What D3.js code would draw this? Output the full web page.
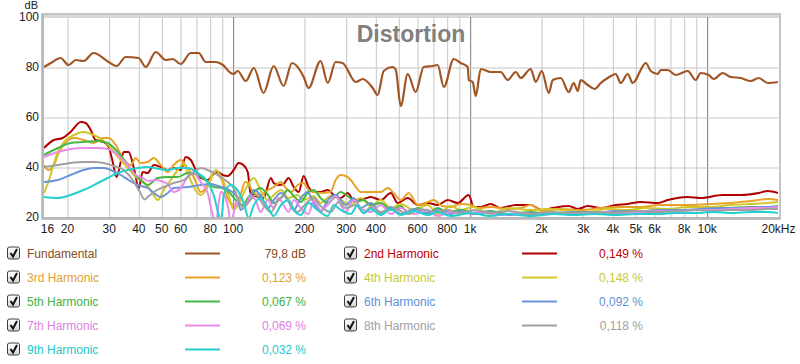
<!DOCTYPE html>
<html><head><meta charset="utf-8">
<script src="https://cdn.jsdelivr.net/npm/d3@7"></script>
<style>
body{margin:0;background:#fff;}
svg{display:block;font-family:"Liberation Sans",Arial,sans-serif;}
</style></head><body>
<svg id="c" width="800" height="364"></svg>
<script>
// ---------- DATA ----------
const freqTicks = [16,20,30,40,50,60,80,100,200,300,400,600,800,1000,2000,3000,4000,5000,6000,8000,10000,20000];
const freqTickLabels = ["16","20","30","40","50","60","80","100","200","300","400","600","800","1k","2k","3k","4k","5k","6k","8k","10k","20kHz"];
const gridFreqs = [20,30,40,50,60,70,80,90,100,200,300,400,500,600,700,800,900,1000,2000,3000,4000,5000,6000,7000,8000,9000,10000];
const decadeFreqs = [100,1000,10000];
const dbTicks = [20,40,60,80,100];
const dbGrid = [40,60,80];

const seriesNames = ["Fundamental","2nd Harmonic","3rd Harmonic","4th Harmonic","5th Harmonic","6th Harmonic","7th Harmonic","8th Harmonic","9th Harmonic"];
const seriesValues = ["79,8 dB","0,149 %","0,123 %","0,148 %","0,067 %","0,092 %","0,069 %","0,118 %","0,032 %"];
const lineColors = ["#a05624","#b00000","#e8a228","#d0c828","#44b844","#6a94d8","#ec8aec","#a0a0a0","#22d0d0"];
const textColors = ["#8a4a1c","#c00000","#e0a030","#c8c830","#40b040","#6090d8","#e080e0","#a0a0a0","#20c8c8"];

const fundamental = [[16,80],[17.1,81.6],[18.8,83.6],[20.3,80.8],[21.8,82.8],[23.5,82.4],[25.9,85.6],[30,82],[32.4,80.4],[35.4,84],[40.1,83.6],[43,80],[47.4,86],[52.2,82.8],[55.8,83.2],[60.4,81.2],[66.5,85.6],[71.9,85.6],[77,82],[84.9,82],[91,80.8],[98.2,77.6],[101,77.2],[105,78.4],[113.6,74.4],[123,79.6],[135,69.6],[149,80.4],[164,72.4],[178,81.6],[199.5,76],[209,71.6],[235,82.4],[252,73.6],[272,82],[291,81.6],[331,74],[354,75.2],[390,71.6],[409,68.8],[434,78.4],[474,80],[488,78.8],[512,64.4],[548,77.2],[592,70],[640,80],[699,80.4],[733,80.8],[778,72],[857,83.2],[917,81.6],[982,80],[991,74.8],[1030,74],[1061,68.4],[1114,79.2],[1227,78],[1352,78],[1448,74.8],[1565,78],[1643,75.6],[1810,79.2],[1901,74],[2014,78.4],[2157,69.6],[2242,74.8],[2423,75.6],[2619,70],[2749,73.6],[2858,70.4],[2942,74.8],[3149,72.8],[3371,71.2],[3574,73.6],[3825,75.6],[4134,77.2],[4341,73.6],[4645,77.2],[4877,73.6],[5021,74.8],[5271,78.8],[5534,81.6],[5809,78.4],[6218,77.2],[6400,78.8],[6851,78.8],[7407,76.8],[8320,78.4],[8993,74.8],[9440,77.6],[10202,76.8],[10711,75.2],[11690,77.6],[12637,76],[13929,75.6],[15348,74.4],[16585,75.6],[18101,73.6],[20000,74]];

const harmonic2 = [[16,47.6],[17.6,50.8],[19.2,51.6],[20.7,54],[22.9,58],[24,57.6],[25.2,54.8],[26.4,50.8],[28.6,50],[30,48],[31.2,42],[32.4,36],[33.7,42],[34.7,46],[36.4,46],[38.3,39.6],[40.2,31.6],[41.7,38],[43.8,37.6],[46.5,40.8],[49.7,40],[53.2,38.8],[56.4,39.6],[60.4,38.8],[63.4,44],[66.6,42.8],[69.9,38.8],[73.3,35.6],[78.5,34.8],[82.4,36.8],[86.5,38],[90.8,36.8],[95.3,36.4],[101,38.8],[106,41.6],[111,40.8],[115.8,38],[119,29.6],[128,28],[135,27.6],[145,35.6],[149,33.6],[156,32.8],[164,33.2],[172,35.6],[181,32],[190,30],[199.5,36.4],[209,32],[220,30],[235,30],[252,30.8],[267,28.8],[286,27.6],[306,29.6],[324,26.8],[357,27.2],[383,28],[422,26.8],[465,29.6],[497,25.6],[548,27.6],[604,24.8],[666,25.6],[733,24.8],[808,26.8],[891,25.6],[991,28.8],[1041,24],[1114,24],[1227,25.2],[1352,23.6],[1565,24.8],[1810,24.8],[2014,22.8],[2242,23.6],[2619,24.4],[2858,23.2],[3149,24.4],[3574,23.6],[4134,24.8],[4645,25.2],[5271,26],[6218,25.6],[6851,26.8],[8320,28],[9440,27.6],[11690,28.8],[13929,28.8],[16585,29.6],[18101,30.4],[20000,29.6]];

const harmonic3 = [[16,40.8],[16.7,38.8],[17.6,40.8],[18.5,46],[19.8,50],[21.4,51.6],[23.5,50.8],[25.9,49.6],[28.3,51.6],[30,51.6],[32.1,48.8],[34.4,43.6],[37.2,40.8],[39,43.6],[40.9,41.6],[43.8,42],[46.5,43.6],[49.7,40.8],[53.2,38],[56.4,40.8],[60.4,42.8],[64.6,39.6],[68.5,36],[73.3,30],[78.5,32.8],[83.2,37.6],[89.1,35.6],[95.3,27.6],[101,24.8],[108,29],[113,34],[115.8,33.6],[123,29.6],[131,28.8],[141,30.8],[149,32],[160,34],[164,32.8],[176,30],[188,32.8],[199.5,33.6],[209,30.8],[220,30],[235,29.6],[259,30],[272,34.8],[286,36.8],[300,36.4],[315,34.8],[331,32],[347,30],[383,30],[422,30],[451,31.6],[478,29.6],[512,26.8],[553,29.6],[604,24.8],[666,26],[705,26.8],[766,24.4],[832,24],[917,25.2],[1011,24.8],[1082,23.6],[1227,24],[1448,23.2],[1643,23.6],[1810,24.8],[2014,22.4],[2423,23.2],[2942,22.8],[3574,23.6],[4341,24],[5271,24],[6400,24.8],[8320,24.8],[10202,25.2],[12637,25.6],[15348,26.4],[18101,27.2],[20000,26.8]];

const harmonic4 = [[16,29.6],[16.7,34],[17.4,39.6],[18.3,46],[19.4,50],[21.4,52.8],[23.5,54],[25.9,52.8],[28.3,50.8],[30.6,47.6],[33.1,43.6],[36.1,39.6],[39,36],[42.2,34],[45.1,30.8],[48.3,26.8],[51.2,30.8],[54.8,34.8],[58.7,38.8],[62.2,41.2],[64.6,37.6],[68.5,32],[73.3,28.8],[78.5,32],[84.9,38.8],[90.8,34.8],[96.3,28.4],[101,22.8],[108,26.8],[115.8,32.8],[123,35.6],[131,30.8],[141,26.8],[149,28.8],[160,30.8],[172,27.6],[188,28.8],[199.5,26.8],[220,28.4],[235,25.6],[259,28.4],[286,26.8],[315,24.8],[347,27.6],[383,24.4],[422,26.8],[465,23.6],[512,25.2],[581,22.8],[666,24.8],[733,21.2],[832,24.4],[917,22.8],[1041,24],[1227,21.2],[1448,23.6],[1810,22.8],[2157,23.2],[2619,22.4],[3149,22],[3825,23.2],[4645,22.8],[5534,23.6],[6851,23.2],[8320,24],[10202,24],[12637,24.8],[15348,25.2],[18101,25.6],[20000,26]];

const harmonic5 = [[16,44.8],[18.3,47.6],[20.7,49.6],[23.5,50],[27,50.4],[29.7,49.6],[32.7,46],[35.4,42],[38.3,37.6],[40.9,34.8],[43.8,32.8],[48.3,35.6],[53.2,36],[58.7,36],[64.6,37.6],[71.2,36.8],[78.5,34],[83.2,32],[90.8,31.6],[96.3,30],[105,26],[111,24.8],[115.8,27.6],[123,30],[131,31.6],[141,28.8],[149,25.6],[160,27.6],[171,30.8],[181,28.4],[194,26],[207,29.6],[220,30.8],[235,27.6],[252,25.6],[267,27.6],[286,30],[306,28.4],[331,26],[357,26.8],[383,24.8],[422,25.6],[465,22.8],[512,24.4],[553,21.2],[604,23.6],[666,21.2],[733,23.6],[808,22],[917,22.8],[1041,21.6],[1227,22.4],[1448,21.2],[1810,22],[2157,21.2],[2619,21.6],[3149,22],[3825,21.6],[4645,22.4],[5534,22],[6851,22.8],[8320,22.8],[10202,23.2],[12637,23.6],[15348,24],[18101,24],[20000,24.4]];

const harmonic6 = [[16,34],[18.3,34.8],[20.7,36.8],[23.5,38.8],[25.9,39.6],[28.6,39.6],[31.2,38.4],[33.7,36.8],[36.4,34.8],[39.8,32.8],[43.8,31.6],[46.5,29.6],[49.7,28],[53.2,29.6],[56.4,31.6],[64.6,32],[73.3,32.8],[80.8,33.2],[89.1,32],[98.2,30.4],[105,27.6],[108,22.8],[115.8,26],[123,30.8],[131,28.8],[141,23.6],[149,26.8],[160,29.6],[171,26.8],[181,22.8],[194,27.6],[207,30],[220,25.6],[235,22],[252,26.8],[272,28.8],[300,24.8],[324,27.6],[347,23.6],[383,25.6],[422,21.6],[465,24],[512,21.2],[581,23.2],[666,21.6],[733,22.8],[832,21.2],[917,22.4],[1041,21.2],[1227,22],[1448,20.8],[1810,21.6],[2242,21.2],[2749,22],[3371,21.6],[4134,22.4],[5021,22],[6218,22.8],[7407,22.8],[9440,23.2],[11690,23.6],[13929,23.6],[16585,24],[20000,24]];

const harmonic7 = [[16,44],[18.3,46],[20.7,47.2],[23.5,47.6],[27,47.6],[29.7,47.2],[32.7,44.8],[36.1,40.8],[39,36.8],[41.7,35.6],[44.3,34.4],[47.4,34.8],[51.2,34],[53.2,33.2],[56.4,30],[60.4,31.6],[64.6,36],[68.5,37.6],[73.3,34],[78.5,29.6],[82.4,20.8],[84.9,18],[89.1,30],[95.3,24.8],[98.2,18],[103,24.8],[108,27.6],[113.6,24.8],[119,28.4],[125,26.8],[131,22],[141,26.8],[149,23.6],[156,27.6],[164,24.8],[172,22],[181,26.8],[194,23.6],[209,21.2],[220,26.8],[235,22.8],[252,24.8],[272,28.4],[286,24.8],[300,22],[324,26.8],[347,23.6],[383,22],[422,24.8],[465,21.2],[512,23.6],[581,21.2],[666,22.8],[733,20.4],[832,22],[917,21.2],[1114,22],[1352,20.8],[1643,21.6],[2014,20.8],[2423,21.6],[2942,21.2],[3574,22],[4341,21.6],[5271,22],[6400,22.4],[7407,22],[8993,22.8],[10711,22.8],[12637,23.2],[15348,23.6],[18101,23.6],[20000,24]];

const harmonic8 = [[16,40],[18.3,40.8],[20.7,41.6],[23.5,42],[25.9,42],[28.6,41.6],[31.5,40.4],[34.7,38.8],[37.9,34.8],[40.2,30.8],[42.6,27],[44.3,28.4],[46.5,30],[51.2,32],[56.4,33.6],[62.2,34.8],[68.5,38],[73.3,39.6],[78.5,38.8],[86.5,36.8],[95.3,34],[101,31.6],[105,27.6],[111,23.6],[117,26],[125,28.8],[135,24.8],[145,22],[156,26.8],[164,28.4],[176,24.8],[188,22],[199.5,24.4],[220,27.6],[235,24.4],[259,22],[280,26],[300,23.6],[331,24.8],[357,21.6],[383,24],[422,22],[478,23.6],[548,21.2],[622,23.2],[705,22],[808,22.8],[917,21.6],[1041,22.8],[1227,21.6],[1448,22.4],[1810,21.2],[2242,22],[2749,21.6],[3371,22],[4134,21.6],[5021,22.4],[6218,22],[7407,22.4],[8993,22.8],[10711,22.4],[12637,22.8],[15348,22.8],[18101,23.2],[20000,23.2]];

const harmonic9 = [[16,28],[18.3,27.6],[20.7,28.8],[23.5,30.8],[27,33.6],[29.7,35.6],[32.7,37.6],[36.1,38.8],[39.8,39.6],[43.8,40],[46.5,39.6],[53.2,38.8],[58.7,39.6],[64.6,39.6],[71.2,37.6],[78.5,34],[83.2,28.8],[87.4,20.8],[89.5,18],[91.7,28.8],[98.2,32.8],[103,31.6],[111,26],[117,19.6],[123,24.8],[131,27.6],[141,23.6],[149,20.4],[160,24.8],[172,26.8],[181,22.8],[194,20.8],[209,25.6],[228,22.8],[252,20.4],[267,24.8],[286,22.8],[315,21.2],[337,24.8],[357,21.6],[383,23.2],[422,20.8],[465,23.2],[512,20.8],[581,22.4],[666,20.8],[733,22],[832,20.4],[1011,21.6],[1227,20.4],[1448,21.2],[1810,20.4],[2242,21.2],[2749,20.8],[3371,21.2],[4134,20.8],[5021,21.2],[6218,21.2],[7407,21.6],[8993,21.6],[10711,22],[12637,21.6],[15348,22],[18101,22],[20000,21.6]];

const allSeries = [fundamental,harmonic2,harmonic3,harmonic4,harmonic5,harmonic6,harmonic7,harmonic8,harmonic9];

// ---------- CHART ----------
const svg = d3.select("#c");
const L = 44, R = 778, T = 17, B = 217;
const x = d3.scaleLog().domain([16,20000]).range([L,R]);
const y = d3.scaleLinear().domain([20,100]).range([B,T]);

const defs = svg.append("defs");
defs.append("clipPath").attr("id","plotclip").append("rect")
  .attr("x",L).attr("y",T).attr("width",R-L).attr("height",B-T);
const grad = defs.append("linearGradient").attr("id","cbgrad").attr("x1",0).attr("y1",0).attr("x2",0).attr("y2",1);
grad.append("stop").attr("offset","0%").attr("stop-color","#ffffff");
grad.append("stop").attr("offset","100%").attr("stop-color","#d4d4d4");

// frame with soft shadow
svg.append("rect").attr("x",L-1).attr("y",T-1).attr("width",R-L+4).attr("height",B-T+4)
  .attr("fill","#e6e6e6");
svg.append("rect").attr("x",L-2).attr("y",T-3).attr("width",R-L+4).attr("height",B-T+5)
  .attr("fill","#fff").attr("stroke","#c4c4c4").attr("stroke-width",2);
svg.append("rect").attr("x",L-1).attr("y",T-2).attr("width",R-L+2).attr("height",3).attr("fill","#d8d8d8");

// vertical grid
const gx = svg.append("g").attr("transform",`translate(0,${B})`)
  .call(d3.axisBottom(x).tickValues(gridFreqs).tickSize(-(B-T)).tickFormat(""));
gx.select(".domain").remove();
gx.selectAll("line").attr("stroke", d => decadeFreqs.includes(d) ? "#7c7c7c" : "#c6c6c6").attr("stroke-width",1)
  .attr("transform","translate(0.5,0)");

// horizontal grid
const gy = svg.append("g").attr("transform",`translate(${L},0)`)
  .call(d3.axisLeft(y).tickValues(dbGrid).tickSize(-(R-L)).tickFormat(""));
gy.select(".domain").remove();
gy.selectAll("line").attr("stroke","#c6c6c6").attr("transform","translate(0,0.5)");

// axis edges
svg.append("line").attr("x1",L-1).attr("x2",L-1).attr("y1",T-2).attr("y2",B+2).attr("stroke","#b8b8b8").attr("stroke-width",2);
svg.append("line").attr("x1",L-2).attr("x2",R+2).attr("y1",B+1).attr("y2",B+1).attr("stroke","#b8b8b8").attr("stroke-width",2);

// x labels
const ax = svg.append("g").attr("transform",`translate(0,${B})`)
  .call(d3.axisBottom(x).tickValues(freqTicks).tickSize(0).tickPadding(7)
    .tickFormat((d,i) => freqTickLabels[i]));
ax.select(".domain").remove();
ax.selectAll("text").attr("font-size",12).attr("fill","#1a1a1a")
  .attr("font-family","'Liberation Sans',Arial,sans-serif")
  .attr("dx",(d,i)=> i===0 ? 3 : 0);

// y labels
const ay = svg.append("g").attr("transform",`translate(${L},0)`)
  .call(d3.axisLeft(y).tickValues(dbTicks).tickSize(0).tickPadding(5));
ay.select(".domain").remove();
ay.selectAll("text").attr("font-size",12).attr("fill","#1a1a1a")
  .attr("font-family","'Liberation Sans',Arial,sans-serif");

svg.append("text").attr("x",38).attr("y",9).attr("text-anchor","end")
  .attr("font-size",11).attr("fill","#1a1a1a").text("dB");

// title
svg.append("text").attr("x",411).attr("y",42).attr("text-anchor","middle")
  .attr("font-size",23).attr("font-weight","bold").attr("fill","#808080").text("Distortion");

// lines
const line = d3.line().x(d => x(d[0])).y(d => y(d[1])).curve(d3.curveMonotoneX);
const plot = svg.append("g").attr("clip-path","url(#plotclip)");
allSeries.forEach((s,i) => {
  plot.append("path").datum(s).attr("fill","none")
    .attr("stroke",lineColors[i]).attr("stroke-width", i===0 ? 2.2 : 2)
    .attr("stroke-linejoin","round").attr("d",line);
});

// legend
const colX = [{cb:7,label:27,l1:185,l2:220,val:306},{cb:344,label:364,l1:522,l2:557,val:643}];
const leg = svg.append("g").attr("font-size",12);
seriesNames.forEach((name,i) => {
  const c = colX[i%2], row = Math.floor(i/2);
  const cy = 253.5 + row*24;
  const g = leg.append("g");
  g.append("rect").attr("x",c.cb+0.5).attr("y",cy-6.5).attr("width",12).attr("height",12).attr("rx",2)
    .attr("fill","url(#cbgrad)").attr("stroke","#3a3a3a").attr("stroke-width",1);
  g.append("path").attr("d",`M${c.cb+3.5},${cy-0.5} L${c.cb+6},${cy+3} L${c.cb+10},${cy-4.5}`)
    .attr("fill","none").attr("stroke","#111").attr("stroke-width",2);
  g.append("text").attr("x",c.label).attr("y",cy+4.5).attr("fill",textColors[i]).text(name);
  g.append("line").attr("x1",c.l1).attr("x2",c.l2).attr("y1",cy).attr("y2",cy)
    .attr("stroke",lineColors[i]).attr("stroke-width",2);
  g.append("text").attr("x",c.val).attr("y",cy+4.5).attr("text-anchor","end")
    .attr("fill",textColors[i]).text(seriesValues[i]);
});
</script>
</body></html>
